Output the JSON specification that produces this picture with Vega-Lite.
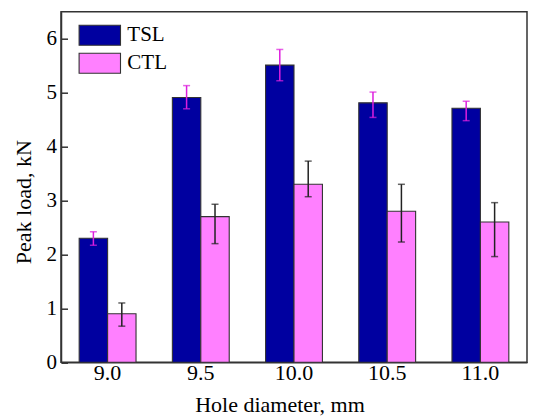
{
  "$schema": "https://vega.github.io/schema/vega-lite/v6.json",
  "width": 466,
  "height": 350.6,
  "autosize": "none",
  "padding": {"left": 61, "top": 11.7, "right": 19, "bottom": 54.7},
  "background": "white",
  "config": {
    "view": {"stroke": "#333", "strokeWidth": 1.5},
    "font": "Liberation Serif",
    "axis": {"labelFont": "Liberation Serif", "titleFont": "Liberation Serif"},
    "legend": {"labelFont": "Liberation Serif"}
  },
  "data": {
    "values": [
      {"d": "9.0", "s": "TSL", "v": 2.3, "lo": 2.17, "hi": 2.42},
      {"d": "9.0", "s": "CTL", "v": 0.9, "lo": 0.67, "hi": 1.1},
      {"d": "9.5", "s": "TSL", "v": 4.91, "lo": 4.7, "hi": 5.13},
      {"d": "9.5", "s": "CTL", "v": 2.7, "lo": 2.2, "hi": 2.93},
      {"d": "10.0", "s": "TSL", "v": 5.51, "lo": 5.22, "hi": 5.8},
      {"d": "10.0", "s": "CTL", "v": 3.3, "lo": 3.07, "hi": 3.73},
      {"d": "10.5", "s": "TSL", "v": 4.81, "lo": 4.54, "hi": 5.01},
      {"d": "10.5", "s": "CTL", "v": 2.8, "lo": 2.23, "hi": 3.3},
      {"d": "11.0", "s": "TSL", "v": 4.71, "lo": 4.48, "hi": 4.84},
      {"d": "11.0", "s": "CTL", "v": 2.6, "lo": 1.96, "hi": 2.96}
    ]
  },
  "encoding": {
    "x": {
      "field": "d", "type": "nominal", "sort": null,
      "scale": {"paddingInner": 0.39, "paddingOuter": 0.195},
      "axis": {
        "title": "Hole diameter, mm", "labelAngle": 0, "ticks": false,
        "labelFontSize": 22, "labelColor": "#000", "labelPadding": 0,
        "titleFontSize": 22, "titleFontWeight": "normal", "titleColor": "#000", "titlePadding": 11,
        "titleX": 218.5,
        "domainColor": "#333", "domainWidth": 1.5
      }
    },
    "xOffset": {"field": "s", "type": "nominal", "sort": ["TSL", "CTL"]}
  },
  "layer": [
    {
      "mark": {"type": "bar", "stroke": "#333", "strokeWidth": 1.1},
      "encoding": {
        "y": {
          "field": "v", "type": "quantitative",
          "scale": {"domain": [0, 6.5], "nice": false},
          "axis": {
            "title": "Peak load, kN",
            "values": [0, 0.5, 1, 1.5, 2, 2.5, 3, 3.5, 4, 4.5, 5, 5.5, 6],
            "labelExpr": "datum.value % 1 === 0 ? format(datum.value, 'd') : ''",
            "grid": false,
            "tickSize": {"condition": {"test": "datum.value % 1 !== 0", "value": -4}, "value": -6.5},
            "tickColor": "#333", "tickWidth": 1.5,
            "labelFontSize": 21, "labelColor": "#000", "labelPadding": 11,
            "titleFontSize": 22, "titleFontWeight": "normal", "titleColor": "#000", "titlePadding": 11,
            "titleY": 190,
            "domainColor": "#333", "domainWidth": 1.5
          }
        },
        "color": {
          "field": "s", "type": "nominal",
          "scale": {"domain": ["TSL", "CTL"], "range": ["#0000a0", "#ff80ff"]},
          "legend": {
            "orient": "none", "legendX": 27.8, "legendY": 12.5, "title": null,
            "symbolType": "M-2.07,-1L2.07,-1L2.07,1L-2.07,1Z", "symbolSize": 400,
            "symbolStrokeColor": "#333", "symbolStrokeWidth": 1.1,
            "labelFontSize": 21, "labelFont": "Liberation Serif", "labelColor": "#000",
            "labelOffset": 16.5, "rowPadding": 2
          }
        }
      }
    },
    {
      "mark": {"type": "rule", "strokeWidth": 1.5},
      "encoding": {
        "y": {"field": "lo", "type": "quantitative"},
        "y2": {"field": "hi"},
        "color": {"condition": {"test": "datum.s === 'TSL'", "value": "#dd1edd"}, "value": "#222"}
      }
    },
    {
      "mark": {"type": "tick", "thickness": 1.5, "size": 7},
      "encoding": {
        "y": {"field": "hi", "type": "quantitative"},
        "color": {"condition": {"test": "datum.s === 'TSL'", "value": "#dd1edd"}, "value": "#222"}
      }
    },
    {
      "mark": {"type": "tick", "thickness": 1.5, "size": 7},
      "encoding": {
        "y": {"field": "lo", "type": "quantitative"},
        "color": {"condition": {"test": "datum.s === 'TSL'", "value": "#dd1edd"}, "value": "#222"}
      }
    }
  ]
}
